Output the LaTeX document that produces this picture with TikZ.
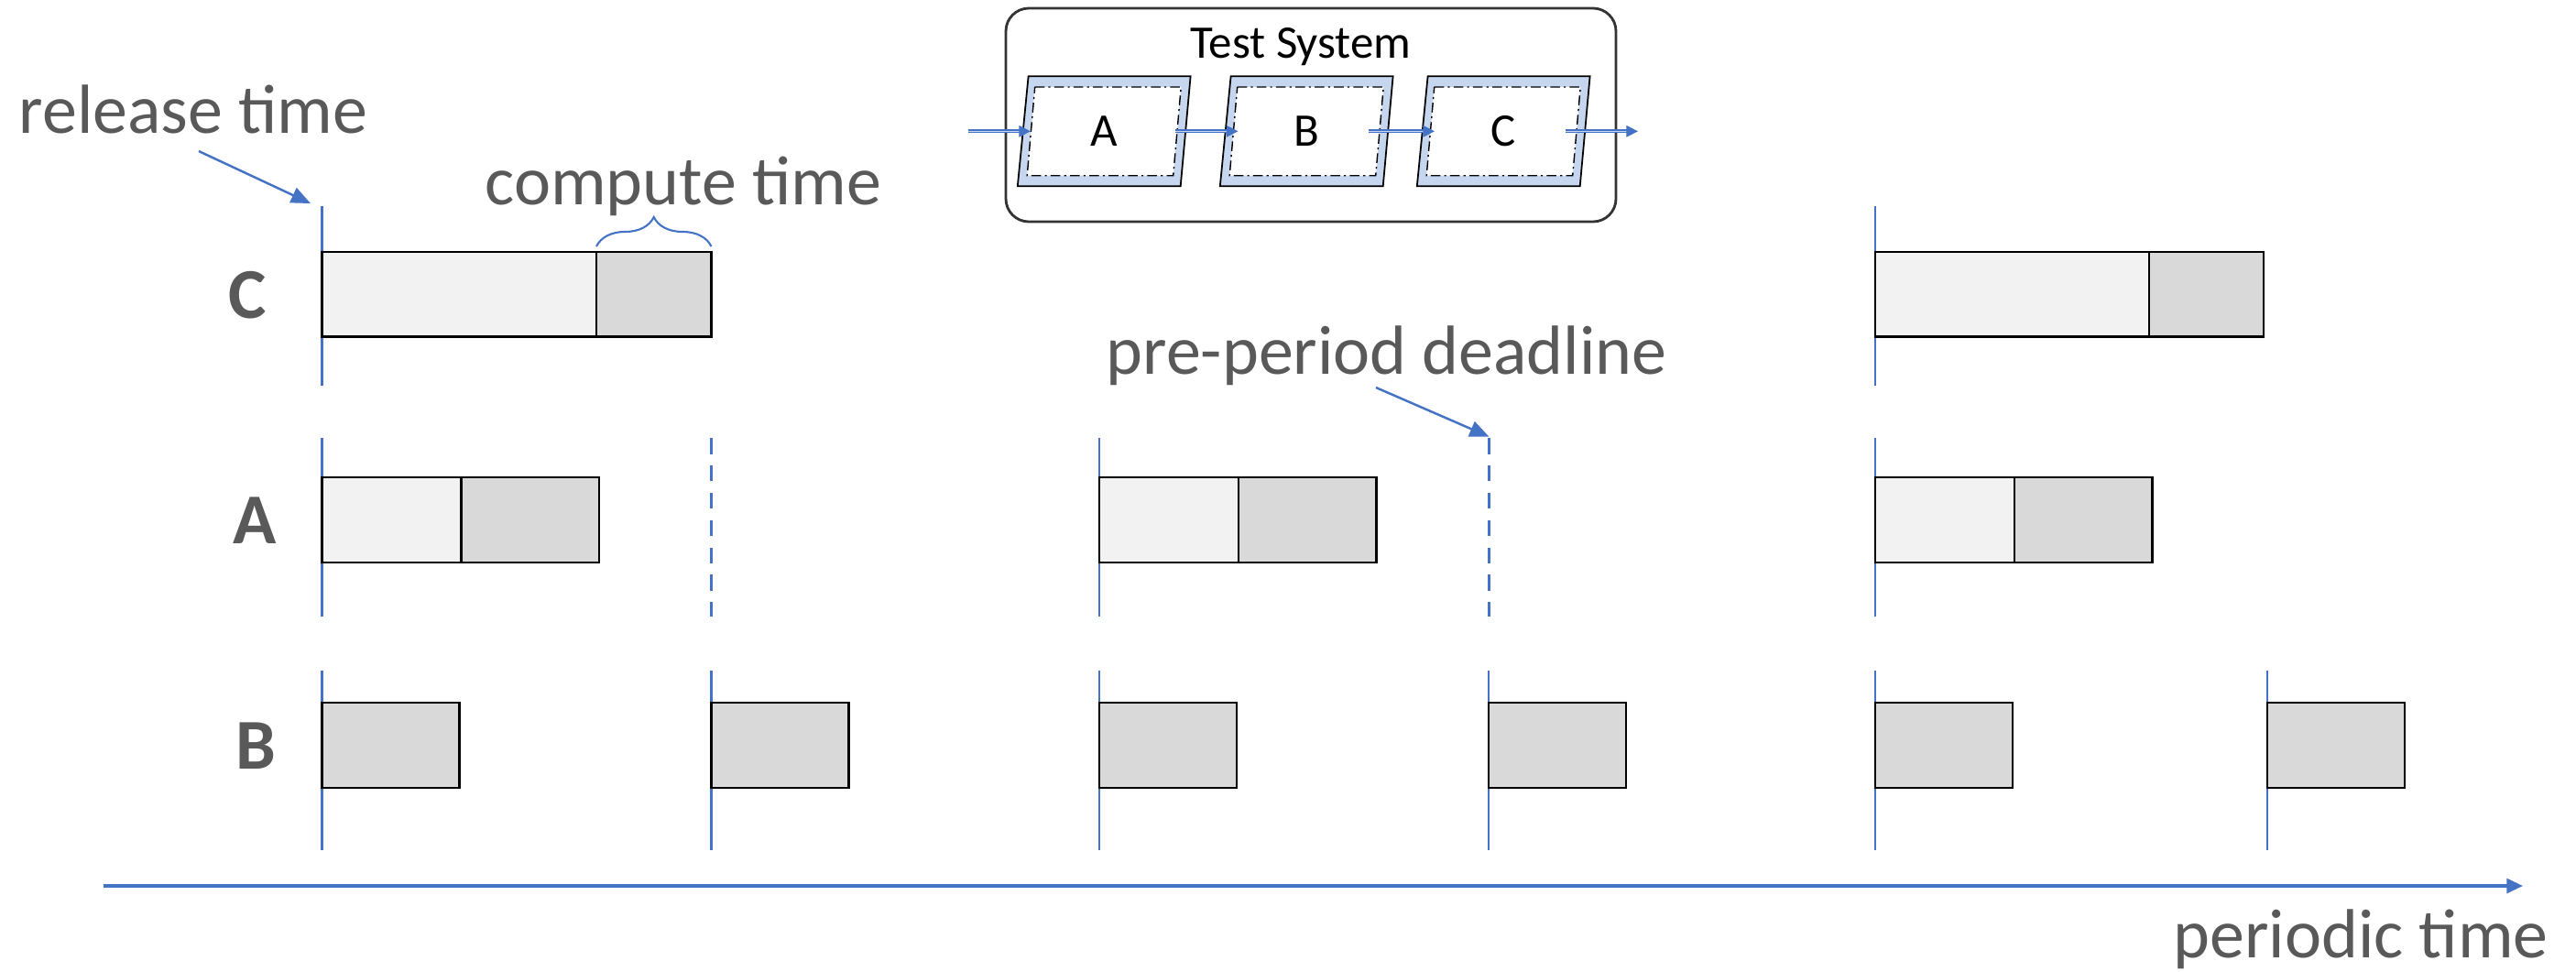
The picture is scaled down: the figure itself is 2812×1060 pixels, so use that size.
\documentclass[tikz,border=0pt]{standalone}
\usepackage{fontspec}
\setmainfont{Carlito}
\usetikzlibrary{arrows.meta,decorations.pathreplacing}
\definecolor{tblue}{HTML}{4472C4}
\definecolor{tgray}{HTML}{595959}
\definecolor{lgray}{HTML}{F2F2F2}
\definecolor{dgray}{HTML}{D9D9D9}
\definecolor{pblue}{HTML}{C5D6EE}
\begin{document}
\begin{tikzpicture}[x=0.01cm,y=-0.01cm,
  relline/.style={draw=tblue, line width=0.6pt},
  ddline/.style={draw=tblue, line width=0.6pt, dash pattern=on 5pt off 3.5pt},
  waitbox/.style={draw=black, fill=lgray, line width=0.6pt},
  compbox/.style={draw=black, fill=dgray, line width=0.6pt},
  bigtext/.style={font=\fontsize{21.6}{26}\selectfont, text=tgray, inner sep=0pt},
  rowlabel/.style={font=\fontsize{22.2}{26}\selectfont\bfseries, text=tgray, inner sep=0pt},
  callout/.style={draw=tblue, line width=0.7pt, -{Triangle[length=6pt,width=5pt]}},
  pgram/.style={draw=black, fill=pblue, line width=0.5pt},
  pinner/.style={draw=black, fill=white, line width=0.4pt, dash pattern=on 3pt off 1.2pt on 0.6pt off 1.2pt},
  flow/.style={draw=tblue, line width=0.35pt, double=pblue, double distance=0.45pt, -{Triangle[length=3.6pt,width=3.6pt]}},
  smalltext/.style={font=\fontsize{14.5}{17}\selectfont, text=black, inner sep=0pt},
]
\useasboundingbox (0,0) rectangle (2812,1060);

% ---- Test System box ----
\draw[draw=black!80, line width=0.8pt, rounded corners=0.25cm] (1098,9) rectangle (1764,242);
\node[smalltext, anchor=base] (tstitle) at (1420,63) {Test System};
\foreach \dx/\lab in {0/A,221/B,436/C}{
  \begin{scope}[xshift=\dx*0.01cm]
  \draw[pgram] (1122.6,83.3) -- (1299.6,83.3) -- (1288.7,203.3) -- (1110.8,203.3) -- cycle;
  \draw[pinner] (1129.7,95) -- (1289.2,95) -- (1280.7,191.7) -- (1121.2,191.7) -- cycle;
  \node[smalltext] (ts\lab) at (1205.2,143.3) {\lab};
  \end{scope}
}
\coordinate (fin0) at (1056.5,143.3);
\coordinate (fin1) at (1125,143.3);
\coordinate (fab0) at (1283,143.3);
\coordinate (fab1) at (1351.5,143.3);
\coordinate (fbc0) at (1494,143.3);
\coordinate (fbc1) at (1566,143.3);
\coordinate (fout0) at (1709,143.3);
\coordinate (fout1) at (1788,143.3);
\draw[flow] (fin0) -- (fin1);
\draw[flow] (fab0) -- (fab1);
\draw[flow] (fbc0) -- (fbc1);
\draw[flow] (fout0) -- (fout1);

% ---- Row C ----
\node[rowlabel] (labC) at (270,322) {C};
\draw[relline] (351.5,225) -- (351.5,421);
\draw[relline] (2047,225) -- (2047,421);
\draw[waitbox] (351.5,275) rectangle (651,367.5);
\draw[compbox] (651,275) rectangle (776.5,367.5);
\draw[waitbox] (2047,275) rectangle (2346,367.5);
\draw[compbox] (2346,275) rectangle (2471,367.5);

% ---- Row A ----
\node[rowlabel] (labA) at (278,568) {A};
\foreach \t in {351.5,1200,2047}{
  \draw[relline] (\t,478) -- (\t,673);
  \draw[waitbox] (\t,521) rectangle (\t+152,614);
  \draw[compbox] (\t+152,521) rectangle (\t+302.5,614);
}
\draw[ddline] (776.5,478) -- (776.5,673);
\draw[ddline] (1625.5,478) -- (1625.5,673);

% ---- Row B ----
\node[rowlabel] (labB) at (279,814) {B};
\foreach \t in {351.5,776.5,1200,1625,2047,2475}{
  \draw[relline] (\t,732) -- (\t,928);
  \draw[compbox] (\t,766.7) rectangle (\t+150,860);
}

% ---- time axis ----
\coordinate (ax0) at (113,967);
\coordinate (ax1) at (2754,967);
\draw[draw=tblue, line width=0.9pt, -{Triangle[length=5pt,width=4.5pt]}] (ax0) -- (ax1);

% ---- annotations ----
\node[bigtext, anchor=base west] (reltxt) at (20,145) {release time};
\coordinate (rel0) at (217,165);
\coordinate (rel1) at (339,222);
\draw[callout] (rel0) -- (rel1);

\node[bigtext, anchor=base west] (comptxt) at (529,223) {compute time};
\draw[draw=tblue, line width=0.6pt, decorate, decoration={brace, amplitude=0.32cm}] (651,269) -- (776.5,269);

\node[bigtext, anchor=base west] (pretxt) at (1207,408) {pre-period deadline};
\coordinate (pre0) at (1502,423);
\coordinate (pre1) at (1625.5,476.7);
\draw[callout] (pre0) -- (pre1);

\node[bigtext, anchor=base west] (pertxt) at (2372,1045) {periodic time};
\end{tikzpicture}
\end{document}
